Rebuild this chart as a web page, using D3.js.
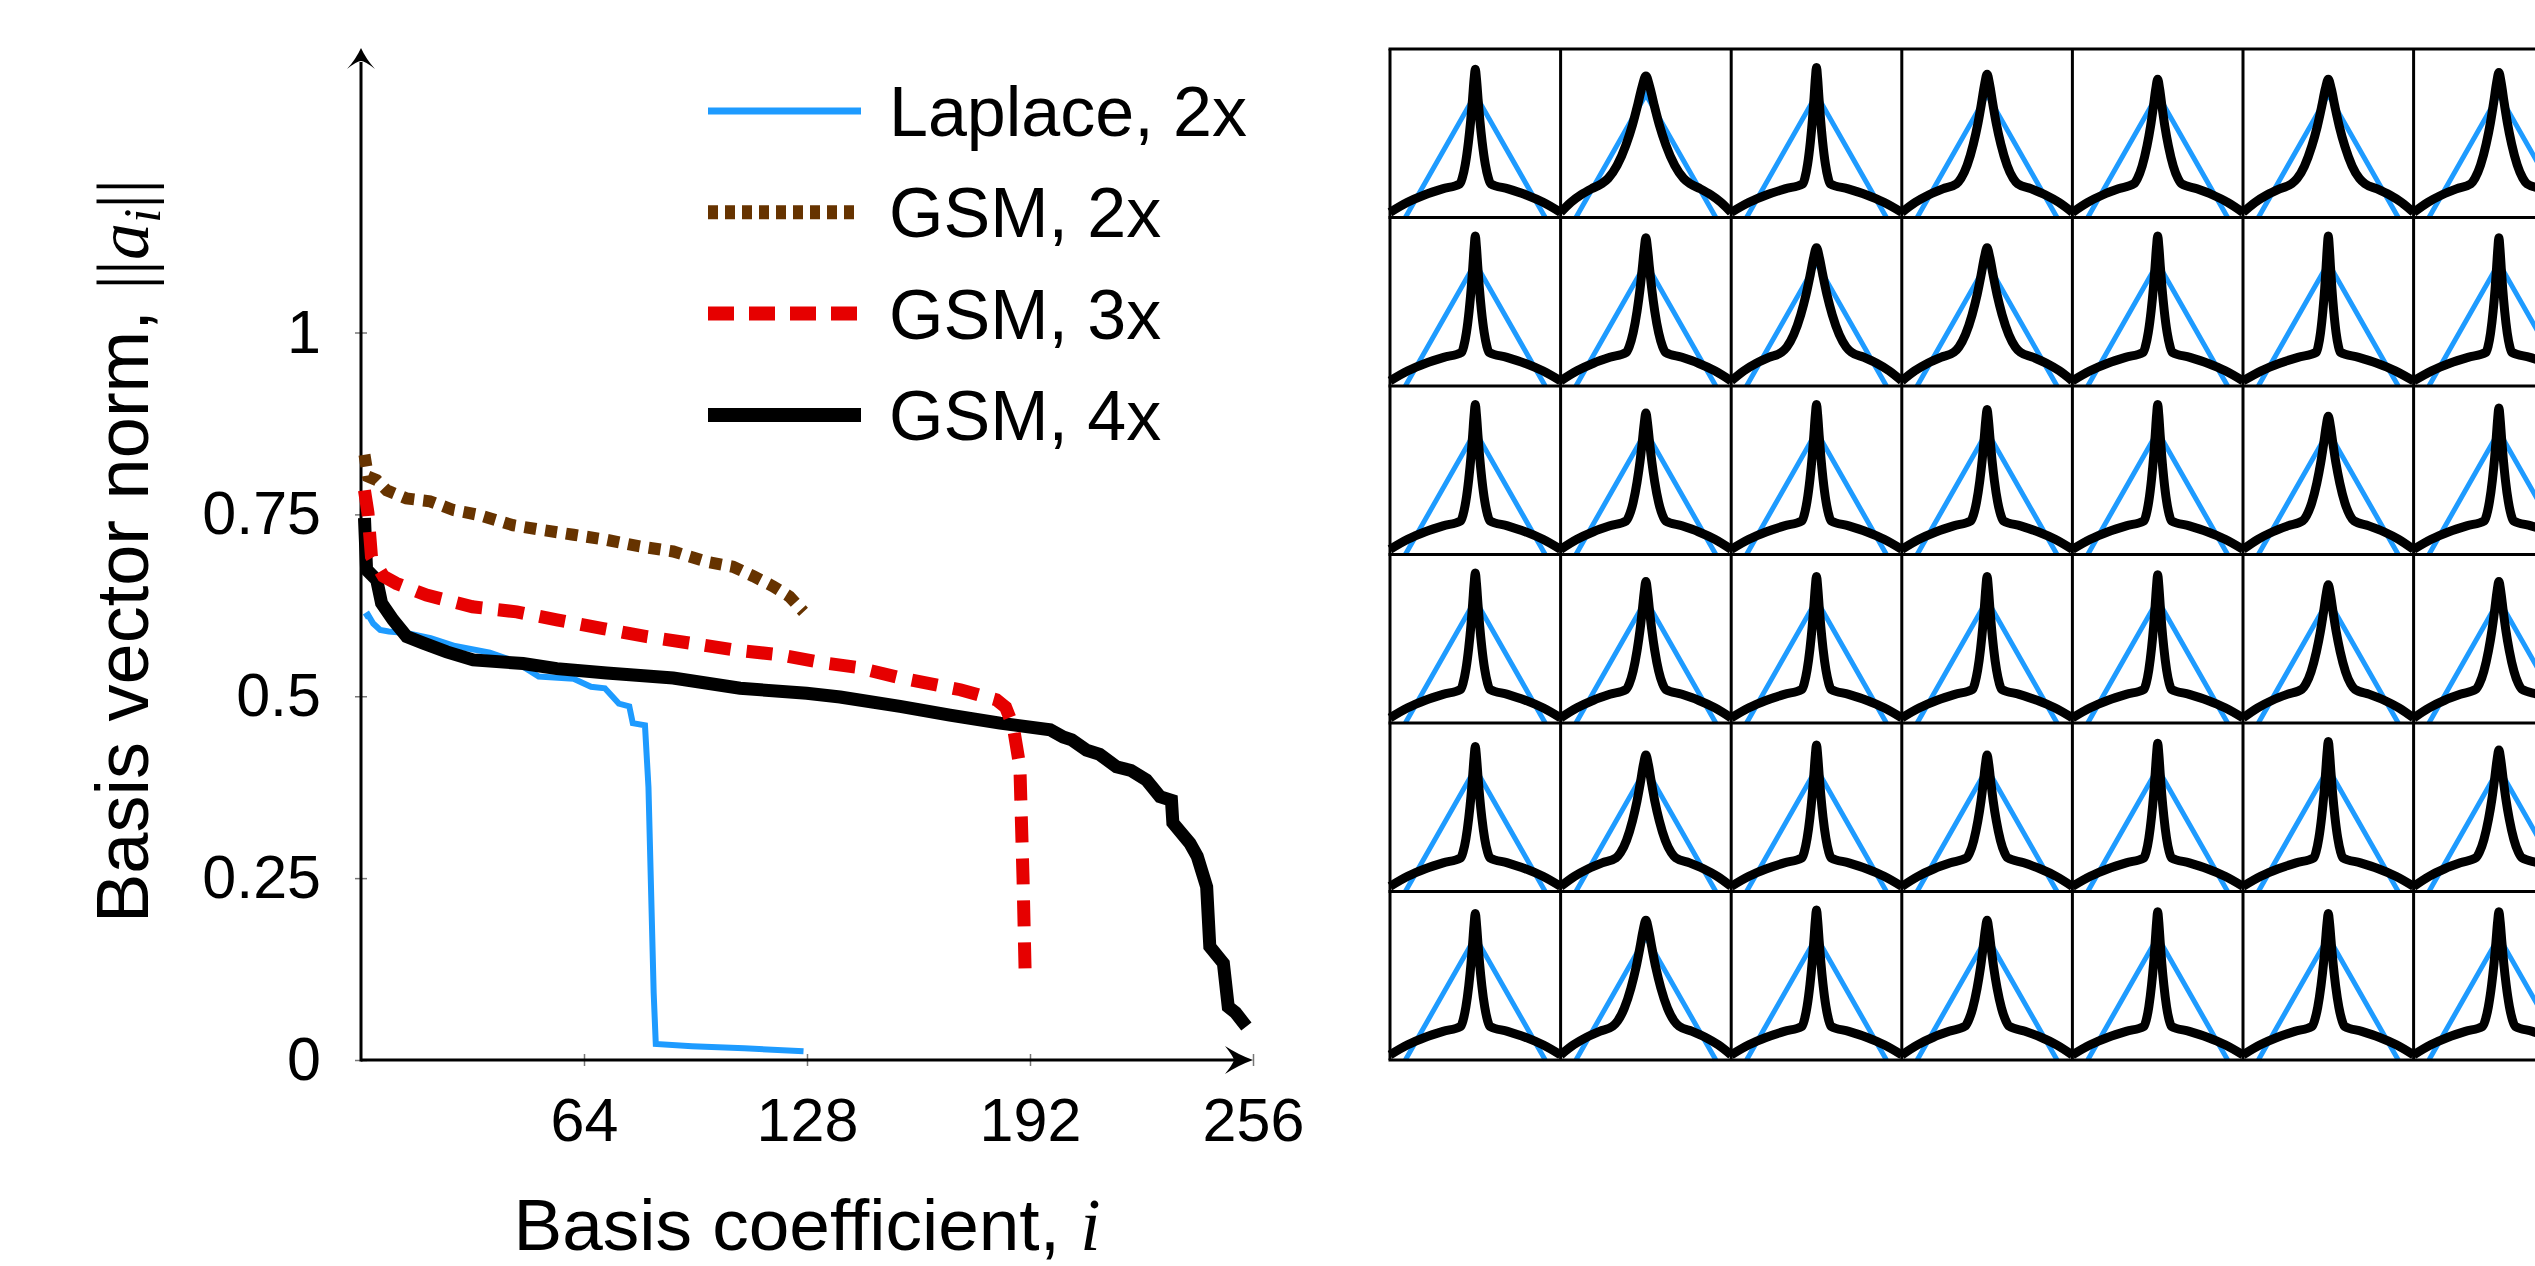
<!DOCTYPE html>
<html>
<head>
<meta charset="utf-8">
<script src="https://cdn.jsdelivr.net/npm/d3@7"></script>
<style>
  html, body { margin: 0; padding: 0; background: #fff; overflow: hidden; }
  svg text { font-family: "Liberation Sans", Arial, Helvetica, sans-serif; fill: #000; }
</style>
</head>
<body>
<svg id="chart" width="2535" height="1266"></svg>
<script>
// sorted basis vector norms, [coefficient index, norm]
var laplace2x = [[1,0.609],[2,0.612],[3.5,0.600],[5.5,0.591],[8,0.589],[13,0.587],[20,0.580],[27,0.569],
    [37,0.560],[44,0.548],[48,0.536],[51,0.527],[61,0.524],[66,0.513],[70,0.511],[74,0.490],[77,0.486],
    [78,0.463],[81.5,0.460],[82.5,0.375],[84,0.092],[84.6,0.022],[95,0.019],[110,0.016],[127,0.012]];
var gsm2x = [[1,0.832],[2,0.802],[4.5,0.797],[7.4,0.783],[13,0.772],[19.8,0.768],[26.5,0.756],[34,0.749],
    [43.7,0.735],[51.4,0.729],[61,0.722],[70.5,0.715],[80,0.706],[89.6,0.699],[99.2,0.685],[106.8,0.678],
    [112.6,0.665],[118.3,0.651],[123,0.637],[127,0.616]];
var gsm3x = [[1,0.783],[2,0.752],[3,0.692],[6.4,0.665],[10.2,0.655],[18.8,0.639],[32,0.623],[44.7,0.616],
    [56.2,0.605],[69.5,0.593],[82,0.582],[94.4,0.573],[106.8,0.564],[120,0.557],[132.6,0.546],[142,0.540],
    [155,0.525],[172,0.509],[182.4,0.495],[185,0.485],[187.2,0.458],[189.1,0.403],[190,0.25],[190.6,0.121]];
var gsm4x = [[1,0.745],[1.6,0.674],[4.5,0.660],[5.9,0.628],[9.2,0.605],[13.1,0.582],[17.9,0.573],[24.6,0.561],
    [32.2,0.550],[46.5,0.545],[56.2,0.538],[70.5,0.532],[89.6,0.525],[108.8,0.511],[127.9,0.504],[137.5,0.499],
    [154.7,0.486],[169,0.474],[183.4,0.463],[197.8,0.454],[201.5,0.444],[204,0.440],[208.2,0.426],[212,0.420],
    [216.8,0.403],[221,0.398],[225.4,0.385],[229.3,0.362],[232.6,0.357],[233,0.326],[237.9,0.298],[240,0.280],
    [242.7,0.238],[243.6,0.156],[247.5,0.133],[248.9,0.073],[251,0.065],[254.1,0.046]];

var xTicks = [64, 128, 192, 256];
var yTicks = [0, 0.25, 0.5, 0.75, 1];
var yTickLabels = ["0", "0.25", "0.5", "0.75", "1"];
var legendNames = ["Laplace, 2x", "GSM, 2x", "GSM, 3x", "GSM, 4x"];

// right panel: learned 1-D log densities, one per basis function
var laplaceShape = [[-0.82, 0], [0, 0.73], [0.82, 0]];
var arcProfile = [[0, 0.03], [0.25, 0.09], [0.5, 0.135], [0.75, 0.17], [1, 0.2]];       // edge -> shoulder
var spikeProfile = [[0, 0], [0.15, 0.05], [0.35, 0.17], [0.55, 0.36], [0.7, 0.55], [0.82, 0.74], [0.92, 0.91], [1, 1]];
var spikeHalfWidth = [
    [0.18, 0.52, 0.16, 0.36, 0.28, 0.43, 0.33],
    [0.16, 0.23, 0.41, 0.39, 0.17, 0.14, 0.15],
    [0.17, 0.23, 0.17, 0.19, 0.16, 0.30, 0.17],
    [0.17, 0.23, 0.17, 0.17, 0.16, 0.31, 0.27],
    [0.17, 0.35, 0.17, 0.24, 0.16, 0.17, 0.27],
    [0.17, 0.39, 0.17, 0.26, 0.16, 0.19, 0.19]];
var spikePeak = [
    [0.88, 0.84, 0.89, 0.85, 0.82, 0.82, 0.86],
    [0.89, 0.88, 0.82, 0.82, 0.89, 0.89, 0.88],
    [0.89, 0.84, 0.89, 0.86, 0.89, 0.82, 0.87],
    [0.89, 0.84, 0.87, 0.87, 0.88, 0.82, 0.84],
    [0.86, 0.81, 0.87, 0.81, 0.88, 0.89, 0.84],
    [0.87, 0.83, 0.89, 0.83, 0.88, 0.87, 0.88]];

var series = [
    {name: legendNames[0], data: laplace2x, color: "#1e9bff", width: 6, dash: null, legDash: null},
    {name: legendNames[1], data: gsm2x, color: "#663300", width: 12, dash: "12,9", legDash: "10,7"},
    {name: legendNames[2], data: gsm3x, color: "#e60000", width: 13, dash: "26,16", legDash: "26,15"},
    {name: legendNames[3], data: gsm4x, color: "#000000", width: 13, dash: null, legDash: null}
];

var svg = d3.select("#chart");
var x = d3.scaleLinear().domain([0, 256]).range([361, 1253]);
var y = d3.scaleLinear().domain([0, 1]).range([1060, 332.5]);

// axes
var gx = svg.append("g").attr("transform", "translate(0," + y(0) + ")")
    .call(d3.axisBottom(x).tickValues(xTicks).tickSize(6).tickPadding(32));
var gy = svg.append("g").attr("transform", "translate(" + x(0) + ",0)")
    .call(d3.axisLeft(y).tickValues(yTicks).tickSize(6).tickPadding(34)
        .tickFormat(function(d, i) { return yTickLabels[i]; }));
[gx, gy].forEach(function(g) {
    g.select(".domain").remove();
    g.attr("font-size", 61).attr("font-family", null);
    g.selectAll(".tick line").attr("stroke", "#777").attr("stroke-width", 1.5);
});
gx.selectAll(".tick line").attr("y1", -6).attr("y2", 6);
gy.selectAll(".tick line").attr("x1", -6).attr("x2", 6);

// axis lines with arrows
svg.append("line").attr("x1", x(0)).attr("x2", x(256) - 18).attr("y1", y(0)).attr("y2", y(0))
    .attr("stroke", "#000").attr("stroke-width", 3);
svg.append("line").attr("x1", x(0)).attr("x2", x(0)).attr("y1", y(0) + 1.5).attr("y2", 62)
    .attr("stroke", "#000").attr("stroke-width", 3);
var tx = x(256), ty = y(0);
svg.append("path").attr("fill", "#000")
    .attr("d", "M" + tx + "," + ty + " Q" + (tx - 14) + "," + (ty - 5) + " " + (tx - 28) + "," + (ty - 14) +
        " Q" + (tx - 20) + "," + (ty - 4) + " " + (tx - 19) + "," + ty +
        " Q" + (tx - 20) + "," + (ty + 4) + " " + (tx - 28) + "," + (ty + 14) +
        " Q" + (tx - 14) + "," + (ty + 5) + " " + tx + "," + ty + "Z");
var ax = x(0), ay = 48;
svg.append("path").attr("fill", "#000")
    .attr("d", "M" + ax + "," + ay + " Q" + (ax + 5) + "," + (ay + 11) + " " + (ax + 14) + "," + (ay + 21) +
        " Q" + (ax + 4) + "," + (ay + 13) + " " + ax + "," + (ay + 13) +
        " Q" + (ax - 4) + "," + (ay + 13) + " " + (ax - 14) + "," + (ay + 21) +
        " Q" + (ax - 5) + "," + (ay + 11) + " " + ax + "," + ay + "Z");

// curves
var line = d3.line().x(function(d) { return x(d[0]); }).y(function(d) { return y(d[1]); });
var drawOrder = [0, 1, 3, 2];
drawOrder.forEach(function(k) {
    var s = series[k];
    svg.append("path").datum(s.data).attr("d", line)
        .attr("fill", "none").attr("stroke", s.color).attr("stroke-width", s.width)
        .attr("stroke-dasharray", s.dash);
});

// legend
var leg = svg.append("g");
series.forEach(function(s, i) {
    var ly = 111 + i * 101.3;
    leg.append("line").attr("x1", 708).attr("x2", 861).attr("y1", ly).attr("y2", ly)
        .attr("stroke", s.color).attr("stroke-width", s.width === 6 ? 7 : 14)
        .attr("stroke-dasharray", s.legDash);
    leg.append("text").attr("x", 889).attr("y", ly + 25).attr("font-size", 70).text(s.name);
});

// axis titles
var xt = svg.append("text").attr("x", (x(0) + x(256)) / 2).attr("y", 1250)
    .attr("text-anchor", "middle").attr("font-size", 73);
xt.append("tspan").text("Basis coefficient, ");
xt.append("tspan").attr("font-family", "'Liberation Serif', 'DejaVu Serif', serif").attr("font-style", "italic").text("i");

var yt = svg.append("text").attr("transform", "translate(148,551) rotate(-90)")
    .attr("text-anchor", "middle").attr("font-size", 74);
yt.append("tspan").text("Basis vector norm, ");
yt.append("tspan").attr("font-family", "'Liberation Serif', serif").text("||");
yt.append("tspan").attr("font-family", "'Liberation Serif', serif").attr("font-style", "italic").text("a");
yt.append("tspan").attr("font-family", "'Liberation Serif', serif").attr("font-style", "italic")
    .attr("font-size", 52).attr("dy", 12).text("i");
yt.append("tspan").attr("font-family", "'Liberation Serif', serif").attr("dy", -12).text("||");

// right panel grid of densities
var nRows = spikePeak.length, nCols = spikePeak[0].length;
var colW = 170.6, rowH = 168.5, gx0 = 1390, gy0 = 49;
var colScale = d3.scaleLinear().domain([0, nCols]).range([gx0, gx0 + nCols * colW]);
var rowScale = d3.scaleLinear().domain([0, nRows]).range([gy0, gy0 + nRows * rowH]);
var cu = d3.scaleLinear().domain([-1, 1]).range([0, colW]);
var cv = d3.scaleLinear().domain([0, 1]).range([rowH, 0]);
var cellLine = d3.line().x(function(d) { return cu(d[0]); }).y(function(d) { return cv(d[1]); });
var gsmLine = d3.line().x(function(d) { return cu(d[0]); }).y(function(d) { return cv(d[1]); })
    .curve(d3.curveMonotoneX);

function gsmPoints(hw, pk) {
    var shoulderY = arcProfile[arcProfile.length - 1][1];
    var left = [];
    arcProfile.forEach(function(p) { left.push([-1 + p[0] * (1 - hw), p[1]]); });
    spikeProfile.slice(1).forEach(function(p) { left.push([-hw + p[0] * hw, shoulderY + p[1] * (pk - shoulderY)]); });
    var right = left.slice(0, -1).reverse().map(function(p) { return [-p[0], p[1]]; });
    return left.concat(right);
}

var grid = svg.append("g");
for (var r = 0; r < nRows; r++) {
    for (var c = 0; c < nCols; c++) {
        var cell = grid.append("g").attr("transform", "translate(" + colScale(c) + "," + rowScale(r) + ")");
        cell.append("path").datum(laplaceShape).attr("d", cellLine)
            .attr("fill", "none").attr("stroke", "#1e9bff").attr("stroke-width", 5);
        cell.append("path").datum(gsmPoints(spikeHalfWidth[r][c], spikePeak[r][c])).attr("d", gsmLine)
            .attr("fill", "none").attr("stroke", "#000").attr("stroke-width", 9);
    }
}
for (var k = 0; k <= nCols; k++) {
    grid.append("line").attr("x1", colScale(k)).attr("x2", colScale(k)).attr("y1", rowScale(0)).attr("y2", rowScale(nRows))
        .attr("stroke", "#000").attr("stroke-width", 3);
}
for (var k = 0; k <= nRows; k++) {
    grid.append("line").attr("x1", colScale(0) - 1.5).attr("x2", colScale(nCols)).attr("y1", rowScale(k)).attr("y2", rowScale(k))
        .attr("stroke", "#000").attr("stroke-width", 3);
}
</script>
</body>
</html>
